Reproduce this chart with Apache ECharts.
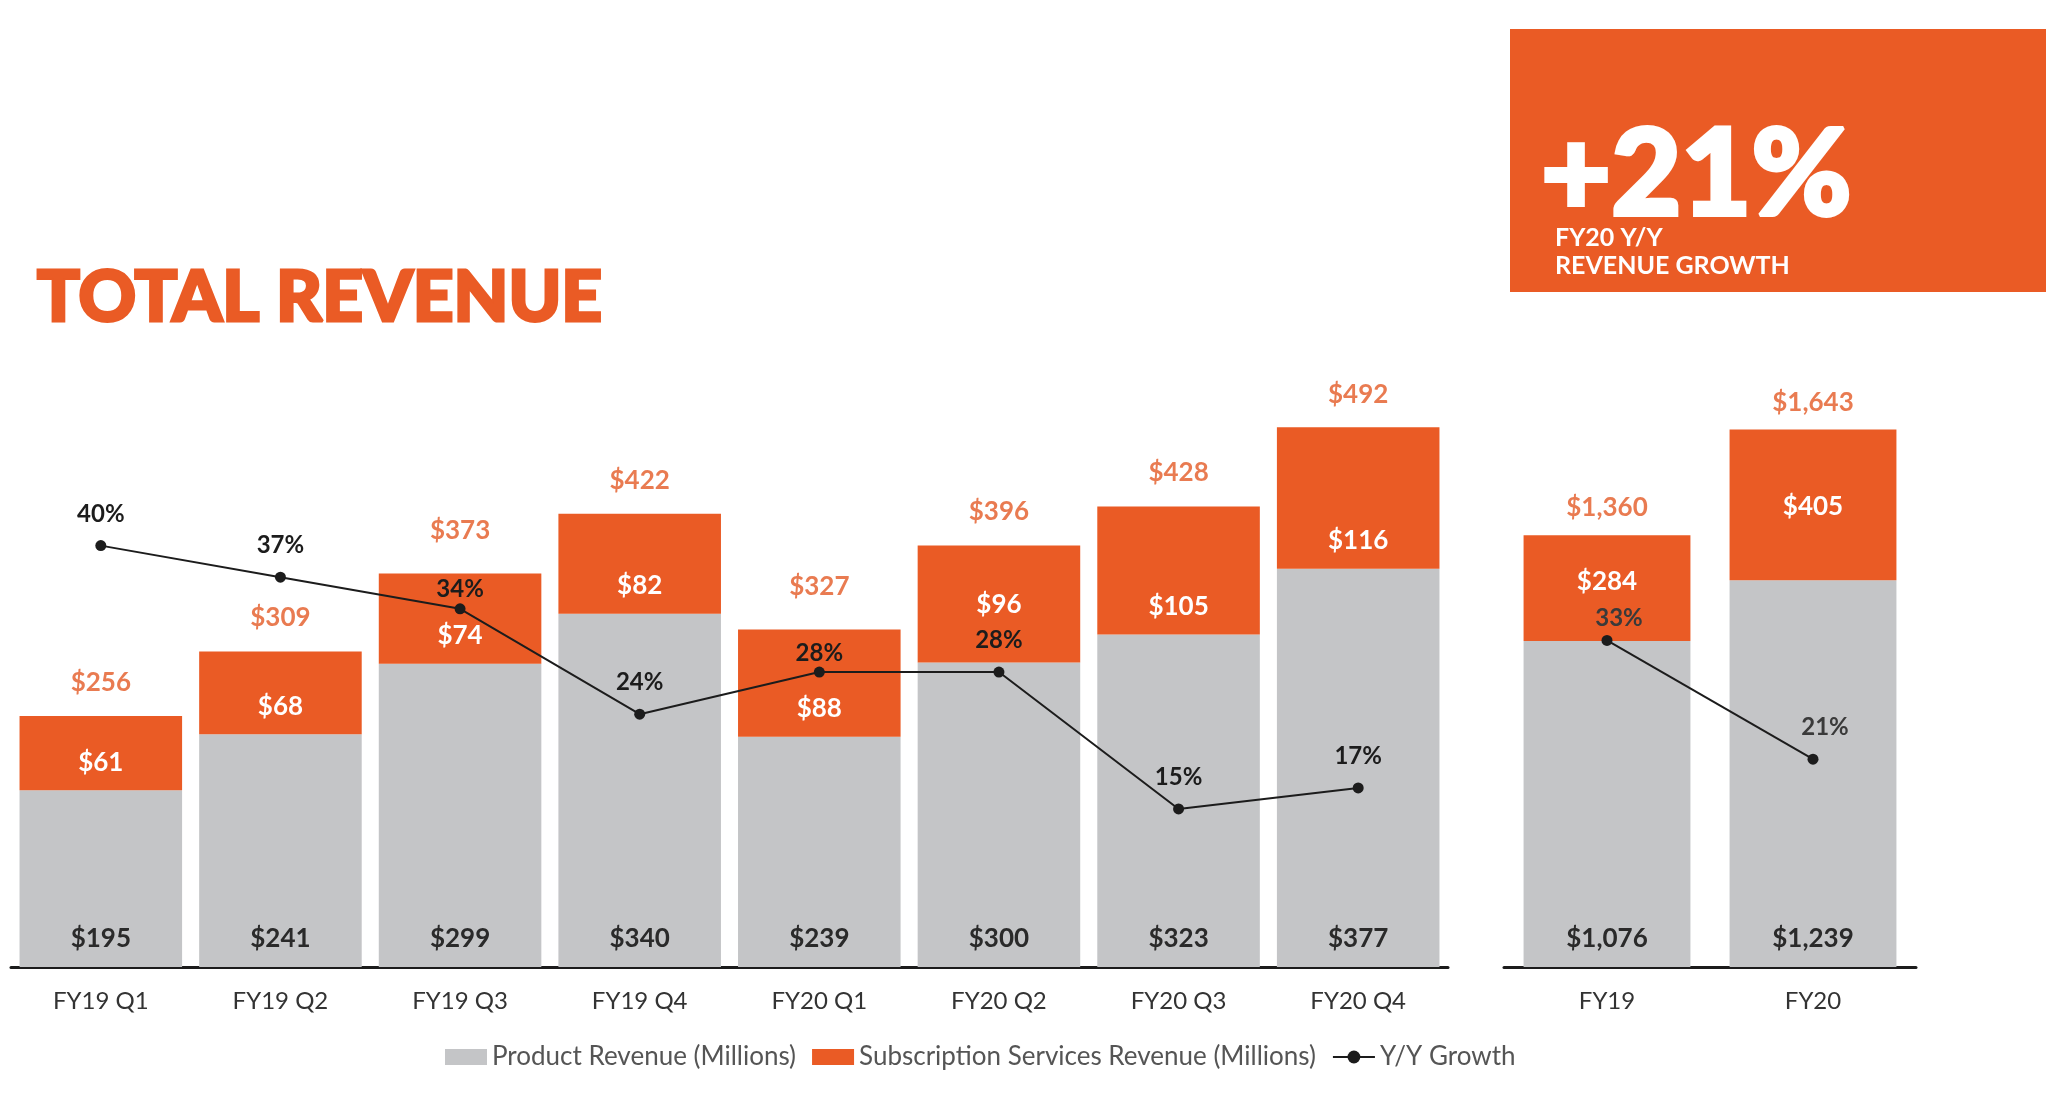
<!DOCTYPE html>
<html><head><meta charset="utf-8">
<script src="https://cdn.jsdelivr.net/npm/echarts@6/dist/echarts.min.js"></script>
<style>html,body{margin:0;padding:0;background:#fff}#c{width:2046px;height:1110px}</style>
</head><body><div id="c"></div>
<script>
// ---- data ----
const quarters = ['FY19 Q1','FY19 Q2','FY19 Q3','FY19 Q4','FY20 Q1','FY20 Q2','FY20 Q3','FY20 Q4'];
const quarterProduct = [195, 241, 299, 340, 239, 300, 323, 377];
const quarterSubscription = [61, 68, 74, 82, 88, 96, 105, 116];
const quarterTotal = [256, 309, 373, 422, 327, 396, 428, 492];
const quarterGrowth = [40, 37, 34, 24, 28, 28, 15, 17];
const years = ['FY19', 'FY20'];
const yearProduct = [1076, 1239];
const yearSubscription = [284, 405];
const yearTotal = [1360, 1643];
const yearGrowth = [33, 21];
const titleText = 'TOTAL REVENUE';
const headline = '+21%';
const headlineSub = ['FY20 Y/Y', 'REVENUE GROWTH'];
const seriesNames = ['Product Revenue (Millions)', 'Subscription Services Revenue (Millions)', 'Y/Y Growth'];

// ---- styles ----
const ORANGE = '#EA5B25';
const ORANGE_TEXT = '#E35A26';
const GRAY = '#C4C5C7';
const DARK = '#1c1c1c';
const FONT = 'Lato';
const HEAVY = '"Lato Black", "Lato Heavy", Lato';
const money = v => '$' + Number(v).toLocaleString('en-US');

function labelled(values, overrides) {
  return values.map((v, i) => overrides && overrides[i] ? { value: v, label: overrides[i] } : v);
}

const baseBarLabel = { show: true, position: 'insideBottom', distance: 15, fontFamily: FONT, fontWeight: 'bold', fontSize: 26, formatter: p => money(p.value) };
const lineLabel = { show: true, position: 'top', distance: 14, fontFamily: FONT, fontWeight: 'bold', fontSize: 24, color: DARK, formatter: p => p.value + '%' };
const totalLabel = { show: true, position: 'top', distance: 20, fontFamily: FONT, fontWeight: 'bold', fontSize: 26, color: ORANGE_TEXT, formatter: p => money(p.value) };

const option = {
  animation: false,
  backgroundColor: '#fff',
  grid: [
    { left: 11, top: 297, width: 1437, height: 670 },
    { left: 1504, top: 297, width: 412, height: 670 }
  ],
  xAxis: [0, 1].map(g => ({
    type: 'category', gridIndex: g, data: g === 0 ? quarters : years,
    axisLine: { lineStyle: { color: DARK, width: 3 } },
    axisTick: { show: false },
    axisLabel: { fontFamily: FONT, fontSize: 24, color: '#333', margin: 22 }
  })),
  yAxis: [
    { type: 'value', gridIndex: 0, min: 50, max: 600, show: false },
    { type: 'value', gridIndex: 0, min: 0, max: 63.6, show: false },
    { type: 'value', gridIndex: 1, min: 200, max: 2000, show: false },
    { type: 'value', gridIndex: 1, min: 0, max: 67.7, show: false }
  ],
  legend: {
    left: 440, top: 1039, itemWidth: 42, itemHeight: 16, itemGap: 16,
    textStyle: { fontFamily: FONT, fontSize: 26, color: '#555' },
    data: [{ name: seriesNames[0], icon: 'rect' }, { name: seriesNames[1], icon: 'rect' }, { name: seriesNames[2] }]
  },
  series: [
    { name: seriesNames[0], type: 'bar', stack: 'q', xAxisIndex: 0, yAxisIndex: 0, barCategoryGap: '9.5%',
      itemStyle: { color: GRAY }, label: Object.assign({}, baseBarLabel, { color: '#2a2a2a' }), data: quarterProduct },
    { name: seriesNames[1], type: 'bar', stack: 'q', xAxisIndex: 0, yAxisIndex: 0, barCategoryGap: '9.5%',
      itemStyle: { color: ORANGE }, label: Object.assign({}, baseBarLabel, { color: '#fff' }),
      data: labelled(quarterSubscription, { 5: { distance: 45 } }) },
    { name: 'qTotal', type: 'scatter', xAxisIndex: 0, yAxisIndex: 0, symbolSize: 1, itemStyle: { color: 'rgba(0,0,0,0)' },
      label: totalLabel, data: labelled(quarterTotal, { 2: { distance: 29 }, 4: { distance: 29 } }), z: 4 },
    { name: seriesNames[2], type: 'line', xAxisIndex: 0, yAxisIndex: 1, symbol: 'circle', symbolSize: 11, z: 5,
      lineStyle: { color: DARK, width: 2 }, itemStyle: { color: DARK }, label: lineLabel,
      data: labelled(quarterGrowth, { 2: { distance: 2 }, 4: { distance: 1 } }) },

    { name: seriesNames[0], type: 'bar', stack: 'a', xAxisIndex: 1, yAxisIndex: 2, barCategoryGap: '19%',
      itemStyle: { color: GRAY }, label: Object.assign({}, baseBarLabel, { color: '#2a2a2a' }), data: yearProduct },
    { name: seriesNames[1], type: 'bar', stack: 'a', xAxisIndex: 1, yAxisIndex: 2, barCategoryGap: '19%',
      itemStyle: { color: ORANGE }, label: Object.assign({}, baseBarLabel, { color: '#fff' }),
      data: labelled(yearSubscription, { 0: { distance: 46 }, 1: { distance: 61 } }) },
    { name: 'aTotal', type: 'scatter', xAxisIndex: 1, yAxisIndex: 2, symbolSize: 1, itemStyle: { color: 'rgba(0,0,0,0)' },
      label: Object.assign({}, totalLabel, { distance: 14 }), data: yearTotal, z: 4 },
    { name: seriesNames[2], type: 'line', xAxisIndex: 1, yAxisIndex: 3, symbol: 'circle', symbolSize: 11, z: 5,
      lineStyle: { color: DARK, width: 2 }, itemStyle: { color: DARK },
      label: Object.assign({}, lineLabel, { color: '#3a3a3a', offset: [12, 0] }),
      data: labelled(yearGrowth, { 0: { distance: 5 } }) }
  ],
  graphic: [
    { type: 'rect', shape: { x: 1510, y: 29, width: 536, height: 263 }, style: { fill: ORANGE }, z: 1 },
    { type: 'text', x: 1541, y: 176, z: 2, style: { text: headline, fill: '#fff', stroke: '#fff', lineWidth: 4, font: '900 121px ' + HEAVY, verticalAlign: 'middle' } },
    { type: 'text', x: 1555, y: 238, z: 2, style: { text: headlineSub[0], fill: '#fff', font: 'bold 25px Lato', verticalAlign: 'middle' } },
    { type: 'text', x: 1555, y: 266, z: 2, style: { text: headlineSub[1], fill: '#fff', font: 'bold 25px Lato', verticalAlign: 'middle' } },
    { type: 'text', x: 37, y: 298, z: 2, style: { text: titleText, fill: ORANGE, stroke: ORANGE, lineWidth: 3, font: '900 71px ' + HEAVY, verticalAlign: 'middle' } }
  ]
};
const chart = echarts.init(document.getElementById('c'), null, { renderer: 'canvas' });
chart.setOption(option);
</script>
</body></html>
